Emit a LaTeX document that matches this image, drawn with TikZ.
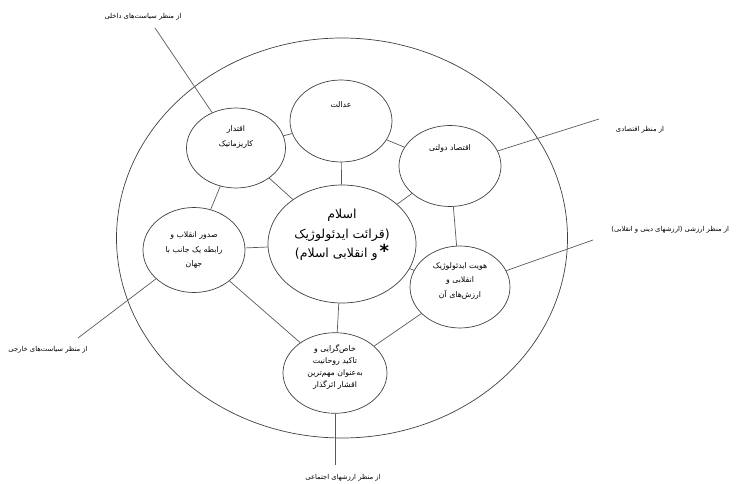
\documentclass[tikz,border=0pt]{standalone}
\usepackage{fontspec}
\newfontfamily\arabicfont[Script=Arabic]{DejaVu Sans}
\TeXXeTstate=1
\usetikzlibrary{shapes.geometric}
\newcommand{\fa}[1]{\beginR #1\endR}

\begin{document}
\begin{tikzpicture}[x=1pt, y=-1pt, line width=0.7pt,
    main/.style = {draw=black!75, ellipse, inner sep=0pt, align=center,
                   font=\arabicfont\fontsize{7.8}{14.5}\selectfont},
    lbl/.style = {font=\arabicfont\fontsize{6.8}{8}\selectfont, inner sep=1pt},
    link/.style = {draw=black!65}]
    \useasboundingbox (0,0) rectangle (745,484);

    % Outer circle
    \node[draw=black!75, ellipse, minimum width=451pt, minimum height=400pt] (ring) at (342,238) {};

    % Nodes
    \node[main, minimum width=148pt, minimum height=118pt,
          font=\arabicfont\fontsize{12.5}{19.5}\selectfont] (0) at (342,244)
          {\fa{اسلام}\\\fa{(قرائت ایدئولوژیک}\\\fa{و انقلابی اسلام)}\,{\fontsize{18}{10}\selectfont\bfseries *}\\[1pt]};
    \node[main, minimum width=99pt, minimum height=80pt] (1) at (236,148) {\fa{اقتدار}\\\fa{کاریزماتیک}\\[9pt]};
    \node[main, minimum width=102pt, minimum height=82pt] (2) at (341,121) {\fa{عدالت}\\[18pt]};
    \node[main, minimum width=102pt, minimum height=81pt] (3) at (450,166) {\fa{اقتصاد دولتی}\\[22pt]};
    \node[main, minimum width=100pt, minimum height=82pt] (4) at (460,287) {\fa{هویت ایدئولوژیک}\\\fa{انقلابی و}\\\fa{ارزش‌های آن}\\};
    \node[main, minimum width=104pt, minimum height=80pt,
          font=\arabicfont\fontsize{7.8}{12}\selectfont] (5) at (335,373) {\fa{خاص‌گرایی و}\\\fa{تاکید روحانیت}\\\fa{به‌عنوان مهم‌ترین}\\\fa{اقشار اثرگذار}\\[2pt]};
    \node[main, minimum width=102pt, minimum height=85pt] (6) at (194,250) {\fa{صدور انقلاب و}\\\fa{رابطه یک جانب با}\\\fa{جهان}};

    % Edges to the centre
    \foreach \i in {1,...,6}
        \draw[link] (0) -- (\i);

    % Edges between neighbours
    \draw[link] (1) -- (2);
    \draw[link] (2) -- (3);
    \draw[link] (3) -- (4);
    \draw[link] (4) -- (5);
    \draw[link] (5) -- (6);
    \draw[link] (6) -- (1);

    % Perspectives
    \coordinate (p1) at (155,28);
    \coordinate (p3) at (599,119);
    \coordinate (p4) at (593,240);
    \coordinate (p5) at (335,465);
    \coordinate (p6) at (78,338);
    \draw[link] (1) -- (p1);
    \draw[link] (3) -- (p3);
    \draw[link] (4) -- (p4);
    \draw[link] (5) -- (p5);
    \draw[link] (6) -- (p6);

    \node[lbl] (t1) at (143,17) {\fa{از منظر سیاست‌های داخلی}};
    \node[lbl] (t3) at (640,130) {\fa{از منظر اقتصادی}};
    \node[lbl, anchor=west] (t4) at (610,230) {\fa{از منظر ارزشی (ارزشهای دینی و انقلابی)}};
    \node[lbl] (t5) at (343,478) {\fa{از منظر ارزشهای اجتماعی}};
    \node[lbl] (t6) at (48,350) {\fa{از منظر سیاست‌های خارجی}};
\end{tikzpicture}
\end{document}
